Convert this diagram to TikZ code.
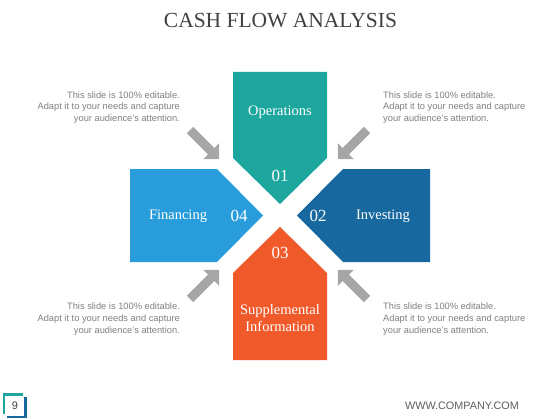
\documentclass[tikz,border=0pt]{standalone}
\usepackage{fontspec}
\setmainfont{Liberation Serif}
\setsansfont{Liberation Sans}
\usepackage{tikz}
\usetikzlibrary{arrows.meta}
\definecolor{cfteal}{HTML}{1CA69E}
\definecolor{cfdark}{HTML}{16689E}
\definecolor{cflight}{HTML}{299DDB}
\definecolor{cforange}{HTML}{F05A2B}
\definecolor{cfgray}{HTML}{A6A6A6}
\definecolor{cftext}{HTML}{7F7F7F}
\definecolor{cftitle}{HTML}{404040}

\begin{document}
\begin{tikzpicture}[
  x=1pt, y=-1pt,
  shapelabel/.style={font=\fontsize{14.5}{17}\selectfont, text=white, align=center, inner sep=0pt},
  numlabel/.style={font=\fontsize{17}{17}\selectfont, text=white, inner sep=0pt},
  bodytext/.style={font=\sffamily\fontsize{9.3}{11.6}\selectfont, text=cftext, inner sep=0pt},
  grayarrow/.style={draw=cfgray, line width=9pt, -{Triangle[length=11pt, width=22pt]}},
]
\useasboundingbox (0,0) rectangle (560,420);
\node[font=\fontsize{21.5}{21.5}\selectfont, text=cftitle, inner sep=0pt] (title) at (280.5,21) {CASH FLOW ANALYSIS};
\fill[cfteal]   (233,72) -- (327,72) -- (327,158) -- (280,204) -- (233,158) -- cycle;
\fill[cflight]  (130,169) -- (217,169) -- (263,215.5) -- (217,262) -- (130,262) -- cycle;
\fill[cfdark]   (430,169) -- (343,169) -- (297,215.5) -- (343,262) -- (430,262) -- cycle;
\fill[cforange] (233,360) -- (233,273) -- (280,227) -- (327,273) -- (327,360) -- cycle;
\node[shapelabel] (operations) at (280,112) {Operations};
\node[numlabel] (num01) at (280,176) {01};
\node[shapelabel] (financing) at (178,216) {Financing};
\node[numlabel] (num04) at (239,216) {04};
\node[numlabel] (num02) at (318,216) {02};
\node[shapelabel] (investing) at (383,216) {Investing};
\node[numlabel] (num03) at (280,253) {03};
\node[shapelabel] (supplemental) at (280,318.5) {Supplemental\\Information};
\foreach \n/\tx/\ty/\hx/\hy in {tl/190/130/219/159, tr/367/130/338/159, bl/190/299/219/270, br/367/299/338/270} {
  \coordinate (\n-tail) at (\tx,\ty);
  \coordinate (\n-tip) at (\hx,\hy);
  \draw[grayarrow] (\n-tail) -- (\n-tip);
}
\foreach \n/\px/\py/\side/\al in {tlnote/180/107.5/east/right, trnote/383/107.5/west/left, blnote/180/319/east/right, brnote/383/319/west/left} {
  \node[bodytext, anchor=\side, align=\al] (\n) at (\px,\py) {This slide is 100\% editable.\\Adapt it to your needs and capture\\your audience's attention.};
}
\draw[cfteal, line width=2.5pt] (4,414) -- (4,394.5) -- (23,394.5);
\draw[cfdark, line width=2.5pt] (7,417) -- (25.5,417) -- (25.5,397);
\node[font=\sffamily\fontsize{11}{11}\selectfont, text=cftitle, inner sep=0pt] (pagenum) at (15,406) {9};
\node[font=\sffamily\fontsize{10.8}{10.8}\selectfont, text=cftitle!85, anchor=east, inner sep=0pt] (website) at (519,406) {WWW.COMPANY.COM};
\end{tikzpicture}
\end{document}
